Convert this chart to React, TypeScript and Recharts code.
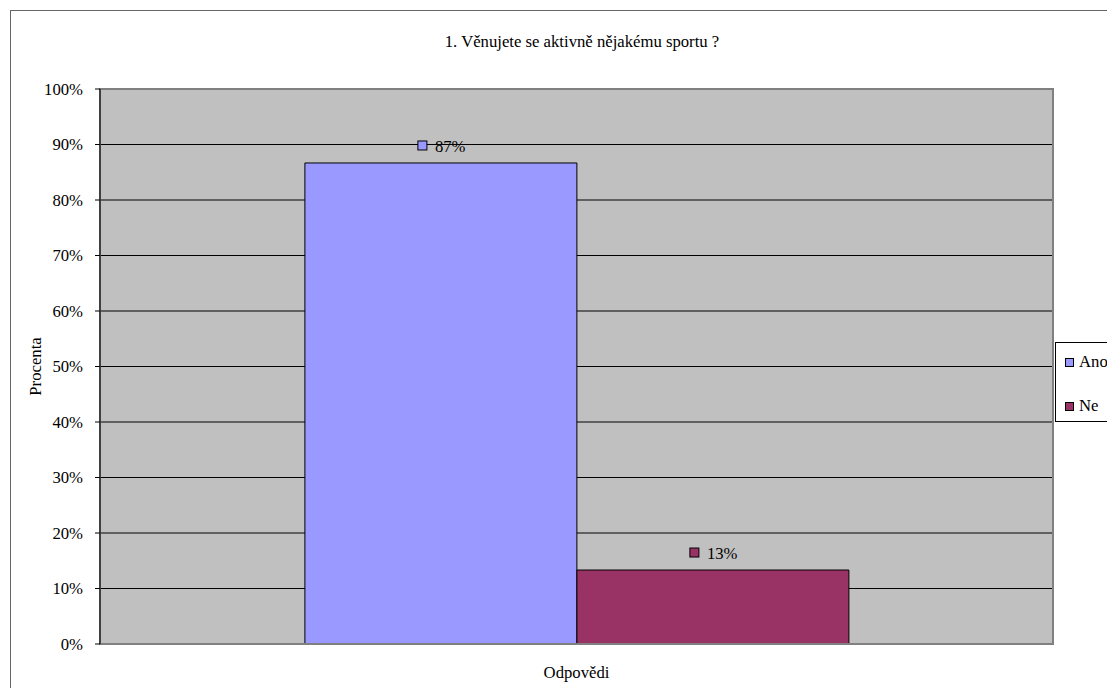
import React from "react";
import {
  BarChart,
  Bar,
  XAxis,
  YAxis,
  CartesianGrid,
  ReferenceArea,
  LabelList,
} from "recharts";

const CATEGORIES = ["Odpovědi"];
const SERIES_NAMES = ["Ano", "Ne"];
const SERIES_VALUES = [[0.8667], [0.1333]];
const Y_TICKS = [0, 0.1, 0.2, 0.3, 0.4, 0.5, 0.6, 0.7, 0.8, 0.9, 1];
const COLORS = ["#9999FF", "#993366"];
const TITLE = "1. Věnujete se aktivně nějakému sportu ?";
const Y_LABEL = "Procenta";

const FONT = "Liberation Serif";
const FS = 16.7;

const data = CATEGORIES.map((name, i) => {
  const row: Record<string, string | number> = { name };
  SERIES_NAMES.forEach((s, j) => {
    row[s] = SERIES_VALUES[j][i];
  });
  return row;
});

const pct = (v: number) => `${Math.round(v * 100)}%`;

function makeLabel(color: string) {
  return (props: any) => {
    const { x, y, width, value } = props;
    const cx = x + width / 2;
    const cy = y - 17;
    return (
      <g>
        <rect x={cx - 23} y={cy - 5} width={9} height={9} fill={color} stroke="#000" strokeWidth={1} />
        <text x={cx - 6} y={cy + 6} fontSize={FS} fontFamily={FONT} fill="#000">
          {pct(value)}
        </text>
      </g>
    );
  };
}

export default function App() {
  return (
    <div
      style={{
        position: "absolute",
        left: 0,
        top: 0,
        width: 1107,
        height: 688,
        overflow: "hidden",
        background: "#fff",
        fontFamily: FONT,
      }}
    >
      <div
        style={{
          position: "absolute",
          left: 10,
          top: 10,
          width: 1200,
          height: 800,
          border: "1px solid #666",
        }}
      />
      <div
        style={{
          position: "absolute",
          left: 0,
          top: 32,
          width: 1164,
          textAlign: "center",
          fontSize: FS,
          color: "#000",
        }}
      >
        {TITLE}
      </div>
      <div style={{ position: "absolute", left: 0, top: 0 }}>
        <BarChart
          width={1107}
          height={688}
          data={data}
          margin={{ top: 89, right: 54, bottom: 0, left: 0 }}
          barCategoryGap="21.5%"
          barGap={0}
        >
          <CartesianGrid vertical={false} stroke="#000" fill="#C0C0C0" fillOpacity={1} />
          <ReferenceArea y1={0} y2={1} fill="none" fillOpacity={0} stroke="#808080" strokeWidth={2} />
          <XAxis
            dataKey="name"
            height={44}
            axisLine={{ stroke: "#808080", strokeWidth: 2 }}
            tickLine={false}
            tickSize={0}
            tickMargin={22}
            tick={{ fontSize: FS, fontFamily: FONT, fill: "#000" }}
          />
          <YAxis
            width={100}
            domain={[0, 1]}
            ticks={Y_TICKS}
            interval={0}
            tickFormatter={pct}
            axisLine={{ stroke: "#000" }}
            tickLine={{ stroke: "#000" }}
            tickSize={5}
            tickMargin={12}
            tick={{ fontSize: FS, fontFamily: FONT, fill: "#000" }}
            label={{
              content: (p: any) => {
                const vb = p.viewBox || {};
                const cy = (vb.y ?? 89) + (vb.height ?? 555) / 2;
                return (
                  <text
                    x={37}
                    y={cy}
                    transform={`rotate(-90, 37, ${cy})`}
                    textAnchor="middle"
                    dominantBaseline="middle"
                    fontSize={FS}
                    fontFamily={FONT}
                    fill="#000"
                  >
                    {Y_LABEL}
                  </text>
                );
              },
            }}
          />
          {SERIES_NAMES.map((s, i) => (
            <Bar
              key={s}
              dataKey={s}
              fill={COLORS[i]}
              stroke="#000"
              strokeWidth={1}
              isAnimationActive={false}
            >
              <LabelList dataKey={s} content={makeLabel(COLORS[i])} />
            </Bar>
          ))}
        </BarChart>
      </div>
      <div
        style={{
          position: "absolute",
          left: 1055,
          top: 342,
          width: 100,
          height: 78,
          border: "1px solid #000",
          background: "#fff",
          fontSize: FS,
        }}
      >
        {SERIES_NAMES.map((s, i) => (
          <div
            key={s}
            style={{ position: "absolute", left: 9, top: 9 + i * 44, display: "flex", alignItems: "center" }}
          >
            <span
              style={{
                display: "inline-block",
                width: 7,
                height: 7,
                background: COLORS[i],
                border: "1px solid #000",
                marginRight: 5,
              }}
            />
            <span>{s}</span>
          </div>
        ))}
      </div>
    </div>
  );
}
